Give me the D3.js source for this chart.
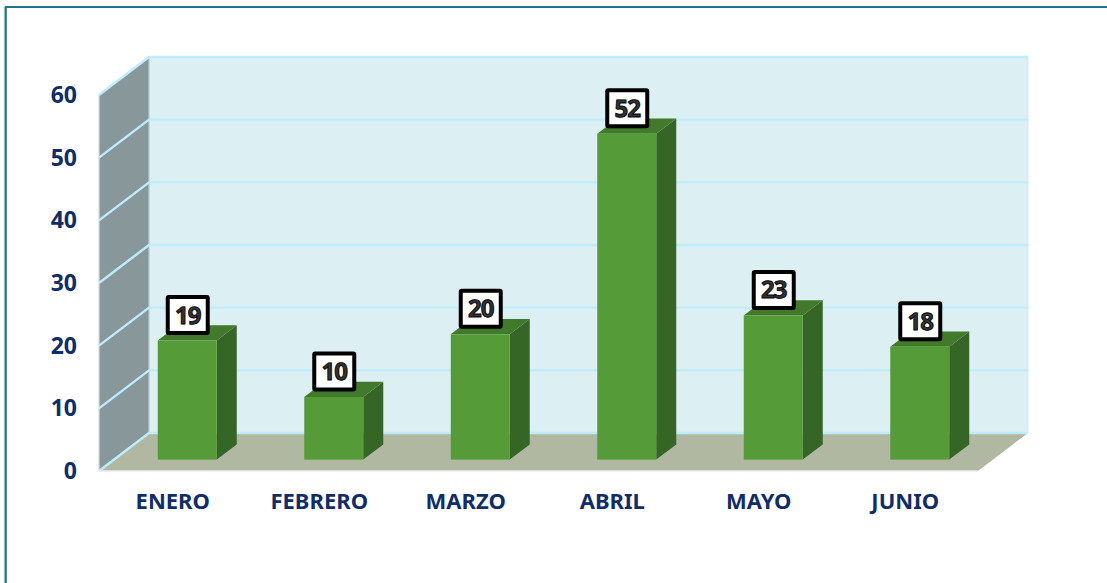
<!DOCTYPE html>
<html><head><meta charset="utf-8">
<style>html,body{margin:0;padding:0;background:#fff;overflow:hidden}svg{display:block}</style>
<script src="https://cdn.jsdelivr.net/npm/d3@7"></script></head>
<body><svg id="c" width="1107" height="583"></svg>
<script>
const categories = ["ENERO","FEBRERO","MARZO","ABRIL","MAYO","JUNIO"];
const values = [19,10,20,52,23,18];
const yTicks = [0,10,20,30,40,50,60];

const svg=d3.select("#c");
svg.append("path").attr("d","M4.5,583V7").attr("stroke","#b5ced6").attr("stroke-width",1.5).attr("fill","none");
svg.append("path").attr("d","M5.8,583V7H1107").attr("stroke","#1d7390").attr("stroke-width",2).attr("fill","none");

const x=d3.scaleBand().domain(categories).range([99,978]);
const y=d3.scaleLinear().domain([0,60]).range([471,95]);
const dx=50, dy=-38;
const barInset=.3, barDepth=.4;
const barW=59;
const font="'Noto Sans',Tahoma,sans-serif";
const pts=a=>a.map(p=>p.join(",")).join(" ");

const x0=x.range()[0], x1=x.range()[1];
svg.append("polygon").attr("points",pts([[x0+dx,y(0)+dy],[x1+dx,y(0)+dy],[x1+dx,y(60)+dy],[x0+dx,y(60)+dy]])).attr("fill","#dcf0f4");
svg.append("polygon").attr("points",pts([[x0,y(0)],[x0+dx,y(0)+dy],[x0+dx,y(60)+dy],[x0,y(60)]])).attr("fill","#87979a");
svg.append("path").attr("d",`M${x0},${y(0)}V${y(60)}`).attr("stroke","#d5dcdc").attr("stroke-width",1.2);
svg.append("path").attr("d",`M${x0+dx},${y(0)+dy}V${y(60)+dy}`).attr("stroke","#b5cdd2").attr("stroke-width",1.2);
svg.append("polygon").attr("points",pts([[x0,y(0)],[x1,y(0)],[x1+dx,y(0)+dy],[x0+dx,y(0)+dy]])).attr("fill","#b1b8a2");
svg.append("g").selectAll("path").data(yTicks).join("path")
  .attr("d",d=>`M${x0},${y(d)}L${x0+dx},${y(d)+dy}H${x1+dx}`)
  .attr("fill","none").attr("stroke","#bfecfb").attr("stroke-width",2.4);
svg.append("path").attr("d",`M${x0},${y(0)}H${x1}`).attr("stroke","#e4eeee").attr("stroke-width",1.5);
svg.append("path").attr("d",`M${x1+dx},${y(0)+dy}V${y(60)+dy}`).attr("stroke","#cdebf3").attr("stroke-width",1);

const bars=svg.append("g").selectAll("g").data(categories).join("g");
const left=c=>x(c)+x.bandwidth()/2-barW/2+dx*barInset;
const base=y(0)+dy*barInset;
const top_=i=>y(values[i])+dy*barInset;
const ox=dx*barDepth, oy=dy*barDepth;
bars.append("polygon").attr("points",(c,i)=>pts([[left(c)+barW,base],[left(c)+barW+ox,base+oy],[left(c)+barW+ox,top_(i)+oy],[left(c)+barW,top_(i)]])).attr("fill","#366625");
bars.append("polygon").attr("points",(c,i)=>pts([[left(c),top_(i)],[left(c)+barW,top_(i)],[left(c)+barW+ox,top_(i)+oy],[left(c)+ox,top_(i)+oy]])).attr("fill","#417a2a");
bars.append("rect").attr("x",c=>left(c)).attr("y",(c,i)=>top_(i)).attr("width",barW).attr("height",(c,i)=>base-top_(i)).attr("fill","#559b38");

const lw=40,lh=36;
const lab=svg.append("g").selectAll("g").data(categories).join("g")
  .attr("transform",(c,i)=>`translate(${left(c)+barW/2+0.5},${top_(i)-25.5})`);
lab.append("rect").attr("x",-lw/2).attr("y",-lh/2).attr("width",lw).attr("height",lh).attr("rx",1)
  .attr("fill","#fff").attr("stroke","#000").attr("stroke-width",4);
lab.append("text").text((c,i)=>values[i]).attr("text-anchor","middle").attr("y",8.5)
  .attr("font-family",font).attr("font-weight",700).attr("font-size",24).attr("letter-spacing",-1)
  .style("text-rendering","geometricPrecision")
  .attr("fill","#333").attr("stroke","#000").attr("stroke-width",0.9);

svg.append("g").selectAll("text").data(yTicks).join("text").text(d=>d)
  .attr("x",77).attr("y",d=>y(d)+8).attr("text-anchor","end")
  .attr("font-family",font).attr("font-weight",700).attr("font-size",23).attr("fill","#0f2d69");
svg.append("g").selectAll("text").data(categories).join("text").text(c=>c)
  .attr("x",c=>x(c)+x.bandwidth()/2+0.5).attr("y",508.5).attr("text-anchor","middle")
  .attr("font-family",font).attr("font-weight",700).attr("font-size",22).attr("fill","#0f2d69");
</script></body></html>
